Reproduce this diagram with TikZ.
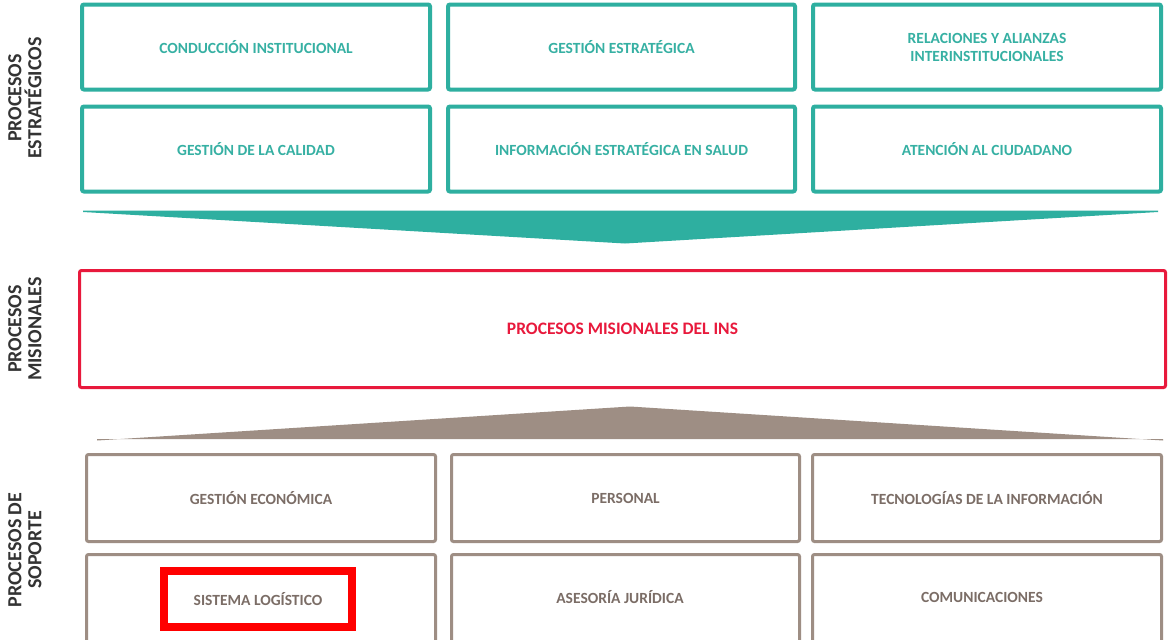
\documentclass[tikz,border=0pt]{standalone}
\usepackage{fontspec}
\setmainfont{Carlito}
\definecolor{teal}{HTML}{2EAFA0}
\definecolor{tealtxt}{HTML}{36B0A3}
\definecolor{misred}{HTML}{E8193C}
\definecolor{brown}{HTML}{9E8E84}
\definecolor{browntxt}{HTML}{7B6D66}
\definecolor{hired}{HTML}{FF0000}
\definecolor{lbl}{HTML}{333333}
\begin{document}
\begin{tikzpicture}[x=1pt,y=-1pt,
  boxfont/.style={font=\bfseries\fontsize{15.5}{18}\selectfont},
  estbox/.style={draw=teal,line width=4pt,rounded corners=2pt,minimum width=348pt,minimum height=85pt,
    text=tealtxt,boxfont,align=center,inner sep=0pt},
  sopbox/.style={draw=brown,line width=3pt,rounded corners=2pt,minimum width=349pt,minimum height=87pt,
    text=browntxt,boxfont,align=center,inner sep=0pt},
  sidelbl/.style={rotate=90,text=lbl,font=\bfseries\fontsize{20}{20}\selectfont,align=center,inner sep=0pt}]
\useasboundingbox (0,0) rectangle (1168,640);
\clip (0,0) rectangle (1168,640);
\fill[white] (0,0) rectangle (1168,640);
% estrategicos
\node[estbox] (e1) at (256,47) {CONDUCCIÓN INSTITUCIONAL};
\node[estbox,minimum width=347pt] (e2) at (621.5,47) {GESTIÓN ESTRATÉGICA};
\node[estbox] (e3) at (987,47) {RELACIONES Y ALIANZAS\\INTERINSTITUCIONALES};
\node[estbox] (e4) at (256,149) {GESTIÓN DE LA CALIDAD};
\node[estbox,minimum width=347pt] (e5) at (621.5,149) {INFORMACIÓN ESTRATÉGICA EN SALUD};
\node[estbox] (e6) at (987,149) {ATENCIÓN AL CIUDADANO};
% teal wedge
\coordinate (tl) at (83,210.5);
\coordinate (tr) at (1158,210.5);
\coordinate (tb) at (625,243.5);
\fill[teal] (tl) -- (83,212) -- (tb) -- (1158,212) -- (tr) -- cycle;
% misionales
\node[draw=misred,line width=3pt,rounded corners=2pt,minimum width=1086pt,minimum height=117pt,
  text=misred,font=\bfseries\fontsize{17.5}{18}\selectfont,inner sep=0pt] (m) at (622.5,329) {PROCESOS MISIONALES DEL INS};
% brown wedge
\coordinate (bl) at (97,440.5);
\coordinate (br) at (1163,440.5);
\coordinate (ba) at (630,406.5);
\fill[brown] (bl) -- (ba) -- (br) -- (1163,439) -- (97,439) -- cycle;
% soporte
\node[sopbox] (s1) at (261,498) {GESTIÓN ECONÓMICA};
\node[sopbox,minimum width=348pt] (s2) at (625.5,498) {PERSONAL};
\node[sopbox] (s3) at (987,498) {TECNOLOGÍAS DE LA INFORMACIÓN};
\node[sopbox,minimum height=89pt] (s4) at (261,599) {};
\node[sopbox,minimum width=348pt,minimum height=89pt] (s5) at (625.5,599) {};
\node[sopbox,minimum height=89pt] (s6) at (987,599) {};
\node[draw=hired,line width=7.5pt,minimum width=188pt,minimum height=56pt,text=browntxt,
  boxfont,inner sep=0pt] (hl) at (258,599) {SISTEMA LOGÍSTICO};
\node[text=browntxt,boxfont,inner sep=0pt] (t5) at (620,597.5) {ASESORÍA JURÍDICA};
\node[text=browntxt,boxfont,inner sep=0pt] (t6) at (982,597.5) {COMUNICACIONES};
% side labels
\node[sidelbl] (l1) at (25,98) {PROCESOS\\ESTRATÉGICOS};
\node[sidelbl] (l2) at (25,329) {PROCESOS\\MISIONALES};
\node[sidelbl] (l3) at (25,550) {PROCESOS DE\\SOPORTE};
\end{tikzpicture}
\end{document}
